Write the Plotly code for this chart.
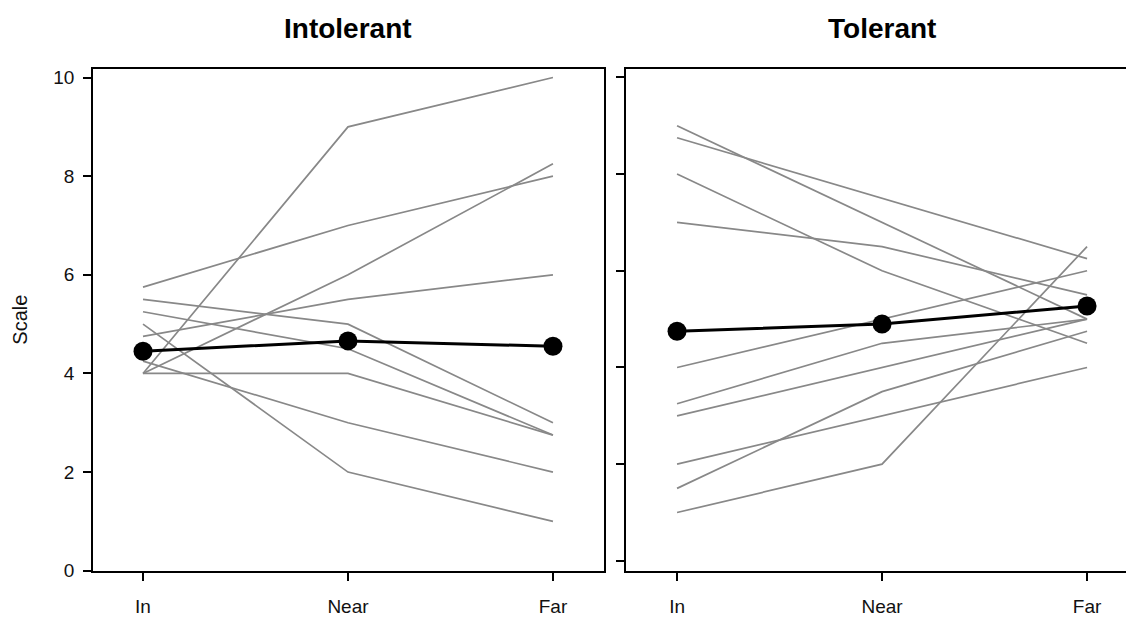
import plotly.graph_objects as go

# Site categories along the x axis
categories = ["In", "Near", "Far"]

# Individual scores per subject (In, Near, Far)
intolerant_subjects = [
    [5.75, 7.0, 8.0],
    [5.5, 5.0, 3.0],
    [5.25, 4.5, 2.75],
    [5.0, 2.0, 1.0],
    [4.75, 5.5, 6.0],
    [4.0, 4.0, 2.75],
    [4.25, 3.0, 2.0],
    [4.0, 9.0, 10.0],
    [4.0, 6.0, 8.25],
]
intolerant_mean = [4.45, 4.66, 4.55]

tolerant_subjects = [
    [9.0, 7.0, 5.0],
    [8.75, 7.5, 6.25],
    [8.0, 6.0, 4.5],
    [7.0, 6.5, 5.5],
    [4.0, 5.0, 6.0],
    [3.25, 4.5, 5.0],
    [3.0, 4.0, 5.0],
    [2.0, 3.0, 4.0],
    [1.5, 3.5, 4.75],
    [1.0, 2.0, 6.5],
]
tolerant_mean = [4.75, 4.90, 5.27]

panel_titles = ["Intolerant", "Tolerant"]
y_ticks = [0, 2, 4, 6, 8, 10]

GREY = "#888888"
FONT = "Liberation Sans, Arial, sans-serif"

fig = go.Figure()


def add_panel(subjects, mean, xa, ya):
    for s in subjects:
        fig.add_trace(go.Scatter(
            x=categories, y=s, mode="lines",
            line=dict(color=GREY, width=1.7),
            xaxis=xa, yaxis=ya, showlegend=False, hoverinfo="skip",
        ))
    fig.add_trace(go.Scatter(
        x=categories, y=mean, mode="lines+markers",
        line=dict(color="black", width=3),
        marker=dict(color="black", size=19),
        xaxis=xa, yaxis=ya, showlegend=False,
    ))


add_panel(intolerant_subjects, intolerant_mean, "x", "y")
add_panel(tolerant_subjects, tolerant_mean, "x2", "y2")

W, H = 1126, 617
axis_common = dict(
    showline=True, linecolor="black", linewidth=1.6,
    ticks="outside", ticklen=8, tickwidth=1.5, tickcolor="black",
    showgrid=False, zeroline=False,
    tickfont=dict(family=FONT, size=19, color="#111111"),
)

fig.update_layout(
    width=W, height=H,
    margin=dict(l=0, r=0, t=0, b=0),
    paper_bgcolor="white", plot_bgcolor="white",
    xaxis=dict(
        axis_common, type="category", domain=[93 / W, 604 / W],
        range=[-0.244, 2.249], mirror=True, anchor="y",
        ticklabelstandoff=10,
    ),
    yaxis=dict(
        axis_common, domain=[1 - 581 / H, 1 - 69 / H],
        range=[0, 10.18], tickvals=y_ticks, mirror=True, anchor="x",
        ticklabelstandoff=5,
        title=dict(text="Scale", font=dict(family=FONT, size=20, color="#111111"),
                   standoff=20),
    ),
    xaxis2=dict(
        axis_common, type="category", domain=[626 / W, 1.0],
        range=[-0.249, 2.19], mirror=True, anchor="y2",
        ticklabelstandoff=10,
    ),
    yaxis2=dict(
        axis_common, domain=[1 - 581 / H, 1 - 69 / H],
        range=[-0.203, 10.18], tickvals=y_ticks, showticklabels=False,
        mirror=False, anchor="x2",
    ),
)

# Panel headings
for title, xc in zip(panel_titles, [348, 882]):
    fig.add_annotation(
        text=f"<b>{title}</b>", x=xc / W, y=1 - 28 / H,
        xref="paper", yref="paper", showarrow=False,
        xanchor="center", yanchor="middle",
        font=dict(family=FONT, size=28, color="black"),
    )

fig.write_html("out.html")
